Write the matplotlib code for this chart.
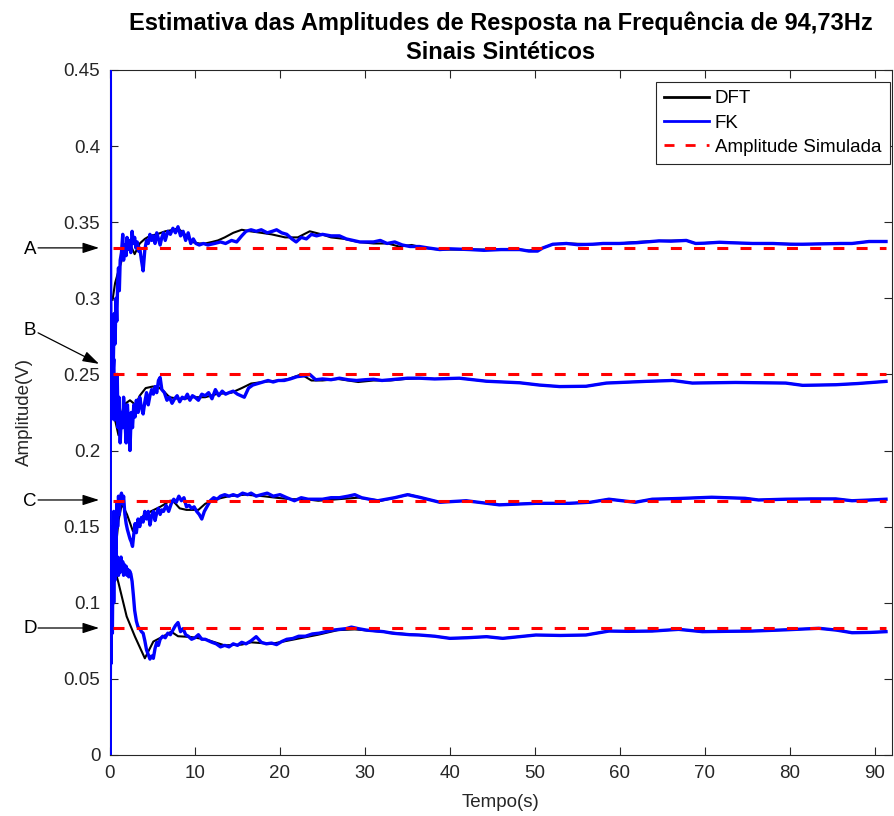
import matplotlib
matplotlib.use("Agg")
import matplotlib.pyplot as plt
from matplotlib.transforms import blended_transform_factory

plt.rcParams['font.family'] = ['Liberation Sans', 'DejaVu Sans']

# ---------------- data ----------------
amp_sim = [0.3333, 0.25, 0.1667, 0.0833]
sim_t = [0.3, 91.3]
curve_labels = ["A", "B", "C", "D"]

# DFT (black)
dft_t_A = [0.3, 0.6, 1.0, 1.5, 2.0, 2.4, 2.9, 3.5, 4.1, 4.7, 5.5, 6.5, 7.5, 8.0, 8.8, 9.6,
           10.5, 11.2, 12.0, 12.7, 13.5, 14.5, 15.5, 16.5, 17.8, 19.0, 20.6, 22.1, 23.5,
           24.9, 26.0, 27.6, 29.2, 31.0, 32.7, 34.0, 35.5, 37.0, 38.8, 40.0, 42.3, 45.0,
           48.2, 49.3, 50.9, 52.1, 53.7, 56.8, 59.9, 62.0, 64.6, 67.8, 68.9, 71.7, 75.6,
           78.0, 81.5, 84.0, 87.3, 89.3, 91.3]
dft_v_A = [0.299, 0.310, 0.318, 0.327, 0.332, 0.335, 0.329, 0.336, 0.339, 0.341, 0.342,
           0.344, 0.345, 0.346, 0.342, 0.337, 0.336, 0.336, 0.337, 0.338, 0.340, 0.343,
           0.345, 0.344, 0.343, 0.342, 0.340, 0.340, 0.344, 0.342, 0.340, 0.339, 0.337,
           0.336, 0.336, 0.334, 0.335, 0.333, 0.332, 0.332, 0.332, 0.332, 0.332, 0.3313,
           0.333, 0.3355, 0.336, 0.3355, 0.336, 0.337, 0.3377, 0.338, 0.336, 0.3368, 0.336,
           0.336, 0.3355, 0.3358, 0.336, 0.3373, 0.3373]

dft_t_B = [0.2, 0.6, 1.0, 1.6, 2.35, 3.0, 3.5, 4.2, 5.0, 5.6, 6.3, 7.0, 8.0, 8.8, 9.8, 11.2,
           12.5, 14.3, 15.5, 16.6, 18.0, 19.8, 21.0, 22.5, 23.7, 25.0, 26.8, 28.0, 29.2,
           31.0, 33.0, 34.7, 36.4, 38.2, 41.1, 44.3, 48.2, 50.5, 52.9, 56.0, 58.4, 60.5,
           63.0, 66.2, 68.5, 71.0, 73.6, 76.5, 79.5, 81.5, 83.5, 85.4, 88.0, 91.3]
dft_v_B = [0.229, 0.220, 0.210, 0.230, 0.233, 0.230, 0.236, 0.241, 0.242, 0.242, 0.239,
           0.235, 0.234, 0.234, 0.235, 0.235, 0.237, 0.238, 0.241, 0.244, 0.245, 0.246,
           0.247, 0.250, 0.246, 0.246, 0.247, 0.246, 0.245, 0.246, 0.246, 0.247, 0.2475,
           0.247, 0.2475, 0.2455, 0.2445, 0.243, 0.242, 0.2422, 0.2443, 0.2448, 0.2454,
           0.246, 0.2443, 0.2445, 0.2447, 0.2445, 0.2443, 0.2428, 0.2430, 0.2432, 0.2440,
           0.2454]

dft_t_C = [0.3, 0.59, 1.0, 1.4, 2.0, 2.7, 3.3, 3.9, 4.8, 5.9, 6.5, 7.05, 7.4, 8.2, 9.0,
           10.4, 11.2, 12.5, 14.0, 15.9, 18.0, 19.5, 21.3, 23.0, 24.5, 26.8, 29.2, 31.9,
           34.3, 35.2, 36.4, 38.8, 41.9, 45.8, 50.1, 54.0, 56.5, 58.7, 61.8, 63.8, 67.0,
           70.8, 74.7, 76.3, 79.5, 82.5, 85.4, 87.3, 89.5, 91.3]
dft_v_C = [0.118, 0.130, 0.154, 0.165, 0.158, 0.147, 0.152, 0.157, 0.160, 0.163, 0.165,
           0.167, 0.167, 0.162, 0.161, 0.161, 0.165, 0.168, 0.170, 0.171, 0.170, 0.169,
           0.168, 0.168, 0.167, 0.168, 0.169, 0.167, 0.170, 0.171, 0.1693, 0.166, 0.167,
           0.1643, 0.1653, 0.1653, 0.166, 0.168, 0.166, 0.168, 0.1685, 0.1693, 0.1686,
           0.1675, 0.168, 0.1682, 0.1682, 0.167, 0.1675, 0.168]

dft_t_D = [0.3, 0.59, 1.0, 1.96, 2.94, 4.1, 5.1, 6.3, 7.2, 8.0, 9.5, 11.2, 13.5, 15.5,
           16.6, 19.0, 21.3, 24.5, 26.8, 28.8, 31.9, 34.7, 36.4, 38.2, 40.0, 42.0, 44.3,
           46.2, 50.1, 53.0, 56.0, 58.7, 61.0, 63.8, 66.9, 69.7, 72.5, 75.6, 79.5, 83.4,
           85.5, 87.3, 89.5, 91.3]
dft_v_D = [0.125, 0.1215, 0.113, 0.091, 0.0777, 0.0635, 0.0745, 0.078, 0.081, 0.078,
           0.0775, 0.076, 0.072, 0.0725, 0.074, 0.073, 0.0755, 0.079, 0.082, 0.0825, 0.081,
           0.0795, 0.0788, 0.078, 0.0766, 0.077, 0.0777, 0.0766, 0.0788, 0.0785, 0.0788,
           0.0814, 0.0812, 0.0814, 0.0825, 0.081, 0.0812, 0.0814, 0.0822, 0.0832, 0.082,
           0.0803, 0.0805, 0.081]

# FK (blue)
fk_t_A = [0, 0.03, 0.1, 0.2, 0.3, 0.4, 0.5, 0.6, 0.7, 0.8, 0.9, 1.0, 1.1, 1.2, 1.35, 1.5,
          1.6, 1.75, 1.9, 2.0, 2.15, 2.3, 2.45, 2.6, 2.75, 2.9, 3.05, 3.2, 3.35, 3.5, 3.7,
          3.9, 4.1, 4.3, 4.5, 4.7, 4.9, 5.1, 5.3, 5.5, 5.7, 5.9, 6.1, 6.3, 6.5, 6.8, 7.1,
          7.4, 7.7, 8.0, 8.3, 8.6, 8.9, 9.2, 9.5, 9.8, 10.1, 10.5, 11.0, 11.5, 12.3, 13.0,
          13.6, 14.3, 14.9, 15.5, 16.0, 16.6, 17.2, 17.8, 18.5, 19.1, 19.6, 20.2, 20.8,
          21.4, 21.9, 22.5, 23.1, 23.7, 24.3, 25.0, 26.0, 27.0, 27.8, 28.6, 29.4, 30.2,
          31.0, 31.8, 32.6, 33.5, 34.4, 35.3, 36.4, 37.5, 38.8, 40.0, 42.3, 44.0, 46.0,
          48.2, 49.3, 50.3, 50.9, 52.1, 53.7, 55.0, 56.8, 58.0, 59.9, 62.0, 64.6, 66.0,
          67.8, 68.9, 70.0, 71.7, 73.0, 75.6, 78.0, 80.0, 81.5, 84.0, 86.0, 87.3, 89.3,
          91.3]
fk_v_A = [0.0, 0.50, 0.22, 0.28, 0.24, 0.26, 0.29, 0.27, 0.30, 0.285, 0.31, 0.32, 0.305,
          0.325, 0.33, 0.342, 0.325, 0.335, 0.328, 0.34, 0.332, 0.338, 0.33, 0.344, 0.336,
          0.34, 0.333, 0.337, 0.331, 0.333, 0.325, 0.318, 0.332, 0.338, 0.336, 0.342,
          0.338, 0.341, 0.336, 0.343, 0.339, 0.335, 0.34, 0.343, 0.338, 0.344, 0.342,
          0.346, 0.343, 0.347, 0.341, 0.344, 0.338, 0.343, 0.336, 0.339, 0.336, 0.335,
          0.336, 0.335, 0.336, 0.337, 0.336, 0.338, 0.337, 0.341, 0.344, 0.345, 0.344,
          0.345, 0.343, 0.344, 0.345, 0.343, 0.342, 0.339, 0.337, 0.340, 0.339, 0.342,
          0.341, 0.342, 0.341, 0.341, 0.339, 0.338, 0.337, 0.337, 0.337, 0.338, 0.336,
          0.337, 0.335, 0.334, 0.334, 0.333, 0.332, 0.3325, 0.332, 0.3315, 0.332, 0.332,
          0.331, 0.331, 0.333, 0.3355, 0.336, 0.3352, 0.3355, 0.336, 0.336, 0.3365,
          0.3377, 0.3375, 0.338, 0.336, 0.3362, 0.3368, 0.3365, 0.336, 0.336, 0.3355,
          0.3355, 0.3358, 0.336, 0.336, 0.3373, 0.3373]

fk_t_B = [0, 0.05, 0.15, 0.25, 0.35, 0.45, 0.55, 0.65, 0.75, 0.85, 0.95, 1.05, 1.2, 1.35,
          1.5, 1.6, 1.75, 1.9, 2.05, 2.2, 2.35, 2.5, 2.65, 2.8, 2.95, 3.1, 3.3, 3.5, 3.7,
          3.9, 4.1, 4.3, 4.5, 4.7, 4.9, 5.1, 5.3, 5.5, 5.7, 5.9, 6.1, 6.4, 6.7, 7.0, 7.3,
          7.6, 7.9, 8.2, 8.5, 8.8, 9.1, 9.4, 9.7, 10.0, 10.4, 10.8, 11.2, 11.6, 12.0, 12.4,
          12.8, 13.2, 13.6, 14.0, 14.5, 15.0, 15.4, 15.8, 16.3, 16.8, 17.4, 18.0, 18.6,
          19.2, 19.8, 20.5, 21.2, 22.0, 22.8, 23.5, 24.2, 25.0, 26.0, 27.0, 28.0, 29.0,
          30.0, 31.0, 32.0, 33.0, 34.0, 35.0, 36.4, 38.2, 41.1, 44.3, 48.2, 50.5, 52.9,
          56.0, 58.4, 60.5, 63.0, 66.2, 68.5, 71.0, 73.6, 76.5, 79.5, 81.5, 83.5, 85.4,
          88.0, 91.3]
fk_v_B = [0.0, 0.30, 0.24, 0.27, 0.25, 0.26, 0.22, 0.245, 0.23, 0.25, 0.215, 0.235, 0.205,
          0.225, 0.215, 0.235, 0.22, 0.205, 0.23, 0.215, 0.20, 0.225, 0.215, 0.23, 0.222,
          0.233, 0.225, 0.235, 0.228, 0.224, 0.232, 0.238, 0.230, 0.236, 0.240, 0.237,
          0.242, 0.238, 0.246, 0.248, 0.240, 0.238, 0.233, 0.235, 0.231, 0.234, 0.236,
          0.232, 0.235, 0.234, 0.237, 0.233, 0.236, 0.235, 0.233, 0.237, 0.236, 0.238,
          0.234, 0.240, 0.236, 0.239, 0.237, 0.238, 0.239, 0.237, 0.236, 0.235, 0.241,
          0.243, 0.244, 0.245, 0.246, 0.245, 0.246, 0.246, 0.247, 0.2485, 0.249, 0.250,
          0.2465, 0.247, 0.2465, 0.2475, 0.2465, 0.246, 0.2465, 0.2468, 0.246, 0.2465,
          0.247, 0.2475, 0.2475, 0.247, 0.2475, 0.2455, 0.2445, 0.243, 0.242, 0.2422,
          0.2443, 0.2448, 0.2454, 0.246, 0.2443, 0.2445, 0.2447, 0.2445, 0.2443, 0.2428,
          0.2430, 0.2432, 0.2440, 0.2454]

fk_t_C = [0, 0.05, 0.12, 0.2, 0.28, 0.36, 0.44, 0.52, 0.6, 0.7, 0.8, 0.9, 1.0, 1.1, 1.2,
          1.35, 1.5, 1.6, 1.75, 1.9, 2.05, 2.2, 2.35, 2.5, 2.65, 2.8, 2.95, 3.1, 3.3, 3.5,
          3.7, 3.9, 4.1, 4.3, 4.5, 4.7, 4.9, 5.1, 5.3, 5.5, 5.7, 5.9, 6.1, 6.3, 6.6, 6.9,
          7.2, 7.5, 7.8, 8.1, 8.4, 8.7, 9.0, 9.3, 9.6, 9.9, 10.2, 10.5, 10.8, 11.1, 11.4,
          11.8, 12.2, 12.6, 13.0, 13.5, 14.0, 14.5, 15.0, 15.6, 16.2, 16.6, 17.2, 17.8,
          18.5, 19.2, 20.0, 20.8, 21.7, 22.5, 23.3, 24.2, 25.0, 26.0, 27.0, 28.0, 28.8,
          29.6, 30.5, 31.5, 32.5, 33.5, 35.0, 36.4, 38.8, 41.9, 45.8, 50.1, 54.0, 56.5,
          58.7, 61.8, 63.8, 67.0, 70.8, 74.7, 76.3, 79.5, 82.5, 85.4, 87.3, 89.5, 91.3]
fk_v_C = [0.0, 0.06, 0.14, 0.09, 0.15, 0.11, 0.16, 0.12, 0.155, 0.135, 0.165, 0.15, 0.17,
          0.158, 0.168, 0.172, 0.165, 0.17, 0.158, 0.152, 0.148, 0.145, 0.142, 0.14, 0.137,
          0.145, 0.152, 0.146, 0.155, 0.150, 0.156, 0.153, 0.160, 0.155, 0.160, 0.151,
          0.157, 0.160, 0.154, 0.159, 0.162, 0.158, 0.161, 0.160, 0.164, 0.160, 0.165,
          0.168, 0.166, 0.170, 0.167, 0.169, 0.163, 0.164, 0.162, 0.163, 0.160, 0.158,
          0.155, 0.160, 0.163, 0.167, 0.169, 0.168, 0.170, 0.171, 0.170, 0.171, 0.170,
          0.172, 0.171, 0.172, 0.170, 0.171, 0.172, 0.170, 0.171, 0.169, 0.167, 0.169,
          0.168, 0.168, 0.168, 0.169, 0.169, 0.170, 0.171, 0.169, 0.168, 0.167, 0.168,
          0.169, 0.171, 0.1693, 0.166, 0.167, 0.1643, 0.1653, 0.1653, 0.166, 0.168, 0.166,
          0.168, 0.1685, 0.1693, 0.1686, 0.1675, 0.168, 0.1682, 0.1682, 0.167, 0.1675,
          0.168]

fk_t_D = [0, 0.05, 0.12, 0.2, 0.28, 0.36, 0.44, 0.52, 0.6, 0.7, 0.8, 0.9, 1.0, 1.1, 1.2,
          1.3, 1.4, 1.5, 1.6, 1.7, 1.8, 1.9, 2.0, 2.1, 2.2, 2.3, 2.45, 2.6, 2.75, 2.9, 3.1,
          3.3, 3.5, 3.7, 3.9, 4.1, 4.3, 4.5, 4.7, 4.9, 5.1, 5.3, 5.5, 5.7, 5.9, 6.2, 6.5,
          6.8, 7.1, 7.4, 7.7, 8.0, 8.3, 8.6, 8.9, 9.2, 9.6, 10.0, 10.4, 10.8, 11.2, 11.6,
          12.0, 12.5, 13.0, 13.5, 14.0, 14.5, 15.0, 15.5, 16.0, 16.6, 17.2, 17.8, 18.4,
          19.0, 19.6, 20.2, 20.8, 21.5, 22.2, 23.0, 23.8, 24.6, 25.4, 26.2, 27.0, 27.8,
          28.4, 29.2, 30.2, 31.2, 32.2, 33.2, 34.2, 35.3, 36.4, 38.2, 40.0, 42.0, 44.3,
          46.2, 50.1, 53.0, 56.0, 58.7, 61.0, 63.8, 66.9, 69.7, 72.5, 75.6, 79.5, 83.4,
          85.5, 87.3, 89.5, 91.3]
fk_v_D = [0.0, 0.10, 0.06, 0.13, 0.08, 0.135, 0.10, 0.13, 0.115, 0.135, 0.12, 0.13, 0.118,
          0.128, 0.12, 0.13, 0.122, 0.127, 0.118, 0.125, 0.12, 0.124, 0.118, 0.122, 0.117,
          0.121, 0.119, 0.114, 0.105, 0.095, 0.088, 0.084, 0.083, 0.081, 0.080, 0.075,
          0.069, 0.066, 0.063, 0.065, 0.0635, 0.070, 0.074, 0.072, 0.076, 0.078, 0.077,
          0.080, 0.079, 0.082, 0.085, 0.087, 0.081, 0.083, 0.079, 0.078, 0.076, 0.077,
          0.079, 0.076, 0.076, 0.075, 0.074, 0.073, 0.071, 0.072, 0.071, 0.073, 0.072,
          0.074, 0.073, 0.075, 0.0777, 0.074, 0.073, 0.0735, 0.0725, 0.0745, 0.0760,
          0.0765, 0.078, 0.078, 0.0795, 0.080, 0.081, 0.082, 0.0825, 0.083, 0.084, 0.083,
          0.0820, 0.0815, 0.081, 0.080, 0.0795, 0.0790, 0.0788, 0.078, 0.0766, 0.077,
          0.0777, 0.0766, 0.0788, 0.0785, 0.0788, 0.0814, 0.0812, 0.0814, 0.0825, 0.081,
          0.0812, 0.0814, 0.0822, 0.0832, 0.082, 0.0803, 0.0805, 0.081]

x_ticks = [0, 10, 20, 30, 40, 50, 60, 70, 80, 90]
y_ticks = [0, 0.05, 0.1, 0.15, 0.2, 0.25, 0.3, 0.35, 0.4, 0.45]
y_tick_labels = ["0", "0.05", "0.1", "0.15", "0.2", "0.25", "0.3", "0.35", "0.4", "0.45"]

title_text = "Estimativa das Amplitudes de Resposta na Frequência de 94,73Hz\nSinais Sintéticos"

# ---------------- figure ----------------
fig = plt.figure(figsize=(8.95, 8.16), dpi=100)
ax = fig.add_axes([0.1229, 0.0748, 0.8737, 0.8395])

dft_sets = [(dft_t_A, dft_v_A), (dft_t_B, dft_v_B), (dft_t_C, dft_v_C), (dft_t_D, dft_v_D)]
fk_sets = [(fk_t_A, fk_v_A), (fk_t_B, fk_v_B), (fk_t_C, fk_v_C), (fk_t_D, fk_v_D)]

for i, (t, v) in enumerate(dft_sets):
    ax.plot(t, v, color='black', lw=1.5, label='DFT' if i == 0 else None, zorder=2)
for i, (t, v) in enumerate(fk_sets):
    ax.plot(t, v, color=(0, 0, 1), lw=2.4, label='FK' if i == 0 else None, zorder=3)
for i, a in enumerate(amp_sim):
    ax.plot(sim_t, [a, a], color=(1, 0, 0), lw=2.2, linestyle=(0, (3.6, 4.0)),
            label='Amplitude Simulada' if i == 0 else None, zorder=4)

ax.set_xlim(0, 92)
ax.set_ylim(0, 0.45)
ax.set_xticks(x_ticks)
ax.set_yticks(y_ticks)
ax.set_yticklabels(y_tick_labels)

axc = (0.15, 0.15, 0.15)
for s in ax.spines.values():
    s.set_color(axc)
    s.set_linewidth(0.8)
ax.tick_params(direction='in', length=6, width=0.8, top=True, right=True,
               labelsize=13.5, colors=axc, labelcolor=axc, pad=7)

ax.set_xlabel('Tempo(s)', fontsize=13.5, color=axc, labelpad=9)
ax.set_ylabel('Amplitude(V)', fontsize=13.5, color=axc, labelpad=22)
ax.set_title(title_text, fontsize=17, fontweight='bold', color='black', pad=8,
             linespacing=1.35)

leg = ax.legend(loc='upper right', bbox_to_anchor=(0.9974, 0.9825), fontsize=13.5,
                frameon=True, fancybox=False, edgecolor=axc, framealpha=1,
                handlelength=2.4, handletextpad=0.3, borderpad=0.45, labelspacing=0.38,
                borderaxespad=0.0)
leg.get_frame().set_linewidth(0.8)
for lh in leg.get_lines():
    lh.set_linewidth(2.0)

# annotations A-D
trans = blended_transform_factory(ax.transAxes, ax.transData)
text_y = [0.3318, 0.2786, 0.1662, 0.0828]
arrow_start_y = [0.3331, 0.2773, 0.1675, 0.0834]
arrow_tip_y = [0.3331, 0.2569, 0.1675, 0.0834]
for lab, ty, sy, ey in zip(curve_labels, text_y, arrow_start_y, arrow_tip_y):
    ax.text(-0.102, ty, lab, transform=trans, fontsize=13.5, ha='center', va='center',
            color='black', clip_on=False)
    ax.annotate('', xy=(-0.014, ey), xytext=(-0.092, sy), xycoords=trans, textcoords=trans,
                annotation_clip=False,
                arrowprops=dict(arrowstyle='-|>,head_length=1.0,head_width=0.32',
                                color='black', lw=0.9, shrinkA=0, shrinkB=0))

fig.savefig('out.png', dpi=100)
